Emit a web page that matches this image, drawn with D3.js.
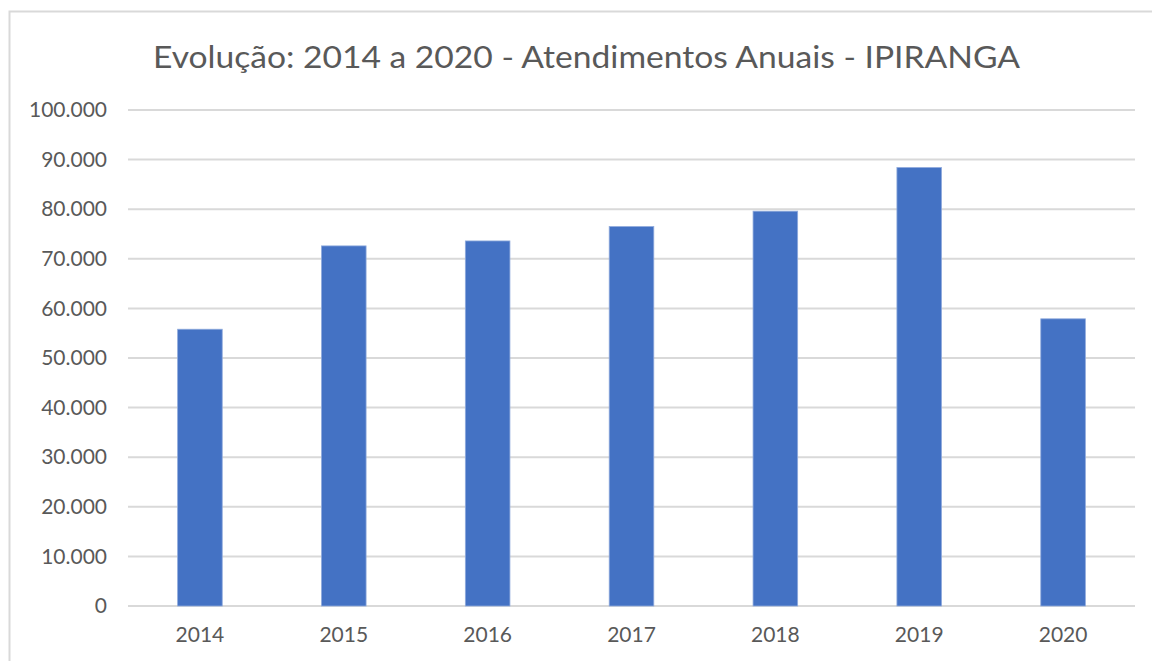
<!DOCTYPE html>
<html>
<head>
<meta charset="utf-8">
<script src="https://cdn.jsdelivr.net/npm/d3@7"></script>
<style>
  body { margin: 0; background: #fff; }
  text { font-family: Lato, "Open Sans", sans-serif; fill: #595959; }
</style>
</head>
<body>
<div id="chart"></div>
<script>
// data
var years = ["2014", "2015", "2016", "2017", "2018", "2019", "2020"];
var atendimentos = [55800, 72600, 73600, 76500, 79600, 88400, 57900];
var yTicks = [0, 10000, 20000, 30000, 40000, 50000, 60000, 70000, 80000, 90000, 100000];

var svgWidth = 1152;
var svgHeight = 661;

var margin = { top: 110, right: 17, bottom: 55, left: 128 };
var width = svgWidth - margin.left - margin.right;
var height = svgHeight - margin.top - margin.bottom;

var svg = d3.select("#chart")
    .append("svg")
    .attr("width", svgWidth)
    .attr("height", svgHeight);

// outer frame of the chart box
svg.append("rect")
    .attr("x", 9.5)
    .attr("y", 11.5)
    .attr("width", 1160)
    .attr("height", 700)
    .attr("fill", "none")
    .attr("stroke", "#d9d9d9")
    .attr("stroke-width", 2);

svg.append("text")
    .attr("x", 153)
    .attr("y", 68)
    .attr("textLength", 867)
    .attr("lengthAdjust", "spacingAndGlyphs")
    .style("font-size", "30px")
    .text("Evolução: 2014 a 2020 - Atendimentos Anuais - IPIRANGA");

var chartGroup = svg.append("g")
    .attr("transform", `translate(${margin.left},${margin.top})`);

var xScale = d3.scaleBand()
    .domain(years)
    .range([0, width])
    .paddingInner(0.69)
    .paddingOuter(0.345);

var yScale = d3.scaleLinear()
    .domain([0, 100000])
    .range([height, 0]);

var fmt = d3.formatLocale({ decimal: ",", thousands: ".", grouping: [3], currency: ["R$", ""] }).format(",d");

// gridlines
chartGroup.append("g")
    .selectAll("line")
    .data(yTicks)
    .enter()
    .append("line")
    .attr("x1", 0)
    .attr("x2", width)
    .attr("y1", d => yScale(d))
    .attr("y2", d => yScale(d))
    .attr("stroke", "#d9d9d9")
    .attr("stroke-width", 2);

// y axis labels
var leftAxis = d3.axisLeft(yScale)
    .tickValues(yTicks)
    .tickFormat(fmt)
    .tickSize(0)
    .tickPadding(21);

var yAxis = chartGroup.append("g").call(leftAxis);
yAxis.select(".domain").remove();
yAxis.selectAll("text")
    .style("font-size", "21px")
    .style("font-family", "Lato, 'Open Sans', sans-serif")
    .attr("fill", "#595959");

// bars
chartGroup.selectAll("rect.bar")
    .data(atendimentos)
    .enter()
    .append("rect")
    .attr("class", "bar")
    .attr("x", (d, i) => xScale(years[i]))
    .attr("y", d => yScale(d))
    .attr("width", xScale.bandwidth())
    .attr("height", d => height - yScale(d))
    .attr("fill", "#4472c4")
    .attr("stroke", "#8faadc")
    .attr("stroke-width", 0.8);

// x axis labels
var bottomAxis = d3.axisBottom(xScale)
    .tickSize(0)
    .tickPadding(21);

var xAxis = chartGroup.append("g")
    .attr("transform", `translate(0, ${height})`)
    .call(bottomAxis);
xAxis.select(".domain").remove();
xAxis.selectAll("text")
    .style("font-size", "21px")
    .style("font-family", "Lato, 'Open Sans', sans-serif")
    .attr("fill", "#595959");
</script>
</body>
</html>
